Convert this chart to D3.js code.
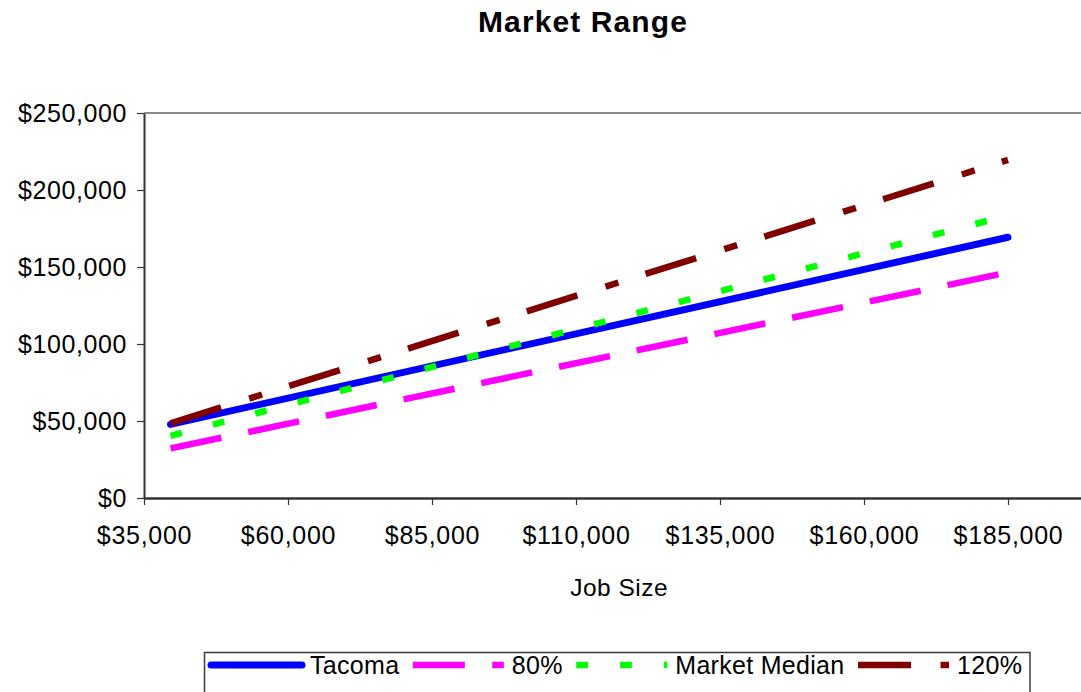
<!DOCTYPE html>
<html>
<head>
<meta charset="utf-8">
<script src="https://cdn.jsdelivr.net/npm/d3@7"></script>
<style>
  html, body { margin: 0; padding: 0; background: #fff; }
  svg { display: block; }
  text { font-family: "Liberation Sans", Arial, sans-serif; fill: #000; }
</style>
</head>
<body>
<svg id="chart" width="1081" height="692"></svg>
<script>
// ---- data ----
const jobSize      = [39600, 185000];
const tacoma       = [47800, 169300];
const pct80        = [32200, 146500];
const marketMedian = [40400, 183500];
const pct120       = [48500, 219500];

const seriesNames  = ["Tacoma", "80%", "Market Median", "120%"];
const xTickValues  = [35000, 60000, 85000, 110000, 135000, 160000, 185000];
const yTickValues  = [0, 50000, 100000, 150000, 200000, 250000];

// ---- styles ----
const styles = [
  { color: "#0000FF", width: 7,   dash: null,                cap: "round" },
  { color: "#FF00FF", width: 6.5, dash: "52 27.4",           cap: "butt" },
  { color: "#00FF00", width: 6.5, dash: "11.8 32",           cap: "butt" },
  { color: "#800000", width: 6.5, dash: "53 29.5 13.5 28.5", cap: "butt" }
];
const seriesValues = [tacoma, pct80, marketMedian, pct120];

const svg = d3.select("#chart");
const plotLeft = 144, plotTop = 113, plotBottom = 498;

const x = d3.scaleLinear().domain([35000, 200000]).range([plotLeft, 1094.4]);
const y = d3.scaleLinear().domain([0, 250000]).range([plotBottom, plotTop]);
const fmt = v => "$" + d3.format(",")(v);

// Title
svg.append("text")
  .attr("x", 583).attr("y", 31.5)
  .attr("text-anchor", "middle")
  .style("font-size", "30px").style("font-weight", "bold")
  .style("letter-spacing", "1.1px")
  .text("Market Range");

// plot area top border
svg.append("line")
  .attr("x1", plotLeft).attr("x2", x.range()[1])
  .attr("y1", plotTop).attr("y2", plotTop)
  .attr("stroke", "#8a8a8a").attr("stroke-width", 2.2);

// Y axis
const yAxis = d3.axisLeft(y).tickValues(yTickValues).tickFormat(fmt).tickSize(7).tickSizeOuter(0).tickPadding(10);
const gy = svg.append("g").attr("transform", `translate(${plotLeft},0)`).call(yAxis);
gy.attr("font-family", null).attr("font-size", null);
gy.select(".domain").attr("stroke", "#333").attr("stroke-width", 2);
gy.selectAll(".tick line").attr("stroke", "#333").attr("stroke-width", 1.2);
gy.selectAll(".tick text")
  .style("font-size", "25px").style("letter-spacing", "0.6px")
  .attr("fill", "#000");

// X axis
const xAxis = d3.axisBottom(x).tickValues(xTickValues).tickFormat(fmt).tickSize(7).tickSizeOuter(0).tickPadding(21);
const gx = svg.append("g").attr("transform", `translate(0,${plotBottom})`).call(xAxis);
gx.attr("font-family", null).attr("font-size", null);
gx.select(".domain").attr("stroke", "#333").attr("stroke-width", 2.5);
gx.selectAll(".tick line").attr("stroke", "#333").attr("stroke-width", 1.2);
gx.selectAll(".tick text")
  .style("font-size", "25px").style("letter-spacing", "0.7px")
  .attr("fill", "#000");

// X axis title
svg.append("text")
  .attr("x", (plotLeft + x.range()[1]) / 2).attr("y", 596)
  .attr("text-anchor", "middle")
  .style("font-size", "24.5px").style("letter-spacing", "0.5px")
  .text("Job Size");

// Lines
const line = d3.line().x(d => x(d[0])).y(d => y(d[1]));
seriesValues.forEach((vals, i) => {
  const pts = jobSize.map((j, k) => [j, vals[k]]);
  const st = styles[i];
  svg.append("path")
    .datum(pts)
    .attr("d", line)
    .attr("fill", "none")
    .attr("stroke", st.color)
    .attr("stroke-width", st.width)
    .attr("stroke-linecap", st.cap)
    .attr("stroke-dasharray", st.dash);
});

// Legend
const lg = svg.append("g");
lg.append("rect")
  .attr("x", 204.5).attr("y", 652.5)
  .attr("width", 825.5).attr("height", 60)
  .attr("fill", "#fff").attr("stroke", "#3a3a3a").attr("stroke-width", 1.5);

let cx = 211;
const ly = 665;
const lineLen = 91;
seriesNames.forEach((name, i) => {
  const st = styles[i];
  lg.append("line")
    .attr("x1", cx).attr("x2", cx + lineLen)
    .attr("y1", ly).attr("y2", ly)
    .attr("stroke", st.color)
    .attr("stroke-width", st.width)
    .attr("stroke-linecap", st.cap)
    .attr("stroke-dasharray", st.dash);
  const t = lg.append("text")
    .attr("x", cx + lineLen + 8).attr("y", ly + 9)
    .style("font-size", "25px").style("letter-spacing", "0.3px")
    .text(name);
  cx = cx + lineLen + 8 + t.node().getComputedTextLength() + 13.5;
});
</script>
</body>
</html>
